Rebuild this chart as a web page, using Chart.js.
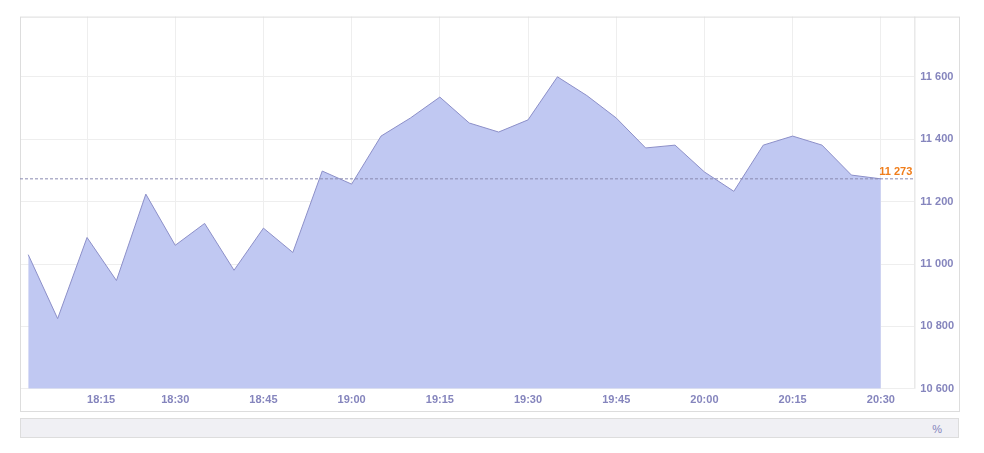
<!DOCTYPE html>
<html><head><meta charset="UTF-8">
<script src="https://cdn.jsdelivr.net/npm/chart.js"></script>
<style>body{margin:0;background:#fff}#w{position:absolute;left:20px;top:4px;width:940px;height:408px}</style>
</head><body>
<div id="w"><canvas id="c"></canvas></div>
<script>
const minutes = [5,10,15,20,25,30,35,40,45,50,55,60,65,70,75,80,85,90,95,100,105,110,115,120,125,130,135,140,145,150];
const values = [11030,10825,11085,10947,11224,11060,11130,10980,11115,11037,11298,11256,11410,11468,11535,11452,11423,11462,11600,11540,11468,11372,11381,11295,11233,11381,11410,11381,11285,11273];
const lastValue = 11273;
const timeLabels = {3.6:'18:00',15:'18:15',30:'18:30',45:'18:45',60:'19:00',75:'19:15',90:'19:30',105:'19:45',120:'20:00',135:'20:15',150:'20:30'};
const frame = {id:'frame', afterDraw(ch){
  const c=ch.ctx,a=ch.chartArea;
  c.save();
  c.strokeStyle='#ddd';c.lineWidth=1;
  c.strokeRect(a.left+0.5,a.top+0.5,ch.width-1-a.left,ch.height-a.top-1);
  c.beginPath();c.moveTo(a.right+0.5,a.top);c.lineTo(a.right+0.5,a.bottom);c.stroke();
  const y=ch.scales.y.getPixelForValue(lastValue);
  c.setLineDash([3,2]);c.strokeStyle='#8a8ab0';
  c.beginPath();c.moveTo(a.left,y);c.lineTo(a.right,y);c.stroke();
  c.fillStyle='#f07d1a';c.font='bold 11px Arial, "Liberation Sans"';c.textAlign='right';c.textBaseline='bottom';
  c.fillText('11 273',a.right-2,y-1);
  c.restore();
}};
new Chart(document.getElementById('c'),{
  type:'line',
  data:{datasets:[{data:minutes.map((m,i)=>({x:m,y:values[i]})),fill:'start',backgroundColor:'#c0c8f2',borderColor:'#8c8fc8',borderWidth:1,pointRadius:0,tension:0}]},
  options:{responsive:true,maintainAspectRatio:false,animation:false,
    plugins:{legend:{display:false},tooltip:{enabled:false}},
    scales:{
      x:{type:'linear',min:3.6,max:155.7,border:{display:false},
        grid:{color:c=>c.tick&&c.tick.value<5?'rgba(0,0,0,0)':'#eee',drawTicks:false},
        afterBuildTicks(s){s.ticks=Object.keys(timeLabels).map(v=>({value:+v}));},
        ticks:{color:'#8585bd',font:{size:11,weight:'bold',family:'Arial, "Liberation Sans"'},padding:5,align:'inner',
          callback:v=>timeLabels[v]||''}},
      y:{position:'right',min:10600,max:11793,border:{display:false},
        grid:{color:'#eee',drawTicks:false},
        afterBuildTicks(s){s.ticks=[10600,10800,11000,11200,11400,11600].map(v=>({value:v}));},
        ticks:{color:'#8585bd',font:{size:11,weight:'bold',family:'Arial, "Liberation Sans"'},padding:6,
          callback:v=>String(v).replace(/(\d{2})(\d{3})/,'$1 $2')}}
    }
  },
  plugins:[frame]
});
</script>
<div style="position:absolute;left:20px;top:418px;width:939px;height:20px;background:#f0f0f4;border:1px solid #ddd;box-sizing:border-box;font:11px Arial;color:#8585bd;text-align:right;padding:4px 16px 0 0">%</div>
</body></html>
